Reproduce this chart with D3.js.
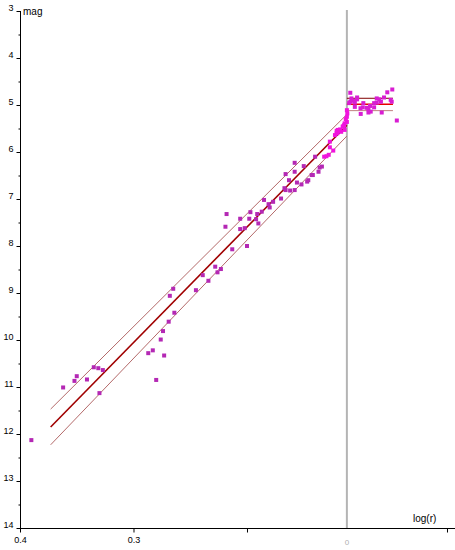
<!DOCTYPE html>
<html><head><meta charset="utf-8">
<script src="https://cdn.jsdelivr.net/npm/d3@7"></script>
<style>
body{margin:0;background:#fff}
svg text{font-family:"Liberation Sans",Arial,sans-serif}
</style>
</head><body>
<svg id="c" width="455" height="550"></svg>
<script>
// ---- data ----
const yTicks = [3,4,5,6,7,8,9,10,11,12,13,14];
const yMinorTicks = [3.5,4.5,5.5,6.5,7.5,8.5,9.5,10.5,11.5,12.5,13.5];
const xTicks = [0.4,0.3,0.2,0.0238];
const xTickLabels = ["0.4","0.3","",""];
const breakX = 0.112;
const breakLabel = "0";
const xLabel = "log(r)";
const yLabel = "mag";

const fallA = [[0.390,12.13],[0.362,11.01],[0.352,10.87],[0.350,10.77],[0.341,10.84],[0.335,10.58],[0.331,10.60],[0.327,10.64],[0.330,11.13],[0.287,10.28],[0.283,10.22],[0.273,10.33],[0.280,10.85],[0.276,9.99],[0.274,9.81],[0.269,9.61],[0.264,9.42],[0.268,9.06],[0.265,8.91],[0.245,8.94],[0.234,8.74],[0.239,8.62],[0.228,8.44],[0.226,8.56],[0.223,8.49],[0.213,8.07],[0.200,8.00],[0.219,7.59],[0.218,7.32],[0.206,7.42],[0.206,7.64],[0.202,7.62],[0.197,7.28],[0.198,7.42],[0.192,7.43],[0.190,7.52],[0.191,7.32],[0.187,7.27],[0.185,7.02],[0.181,7.11],[0.180,7.18],[0.177,7.06],[0.170,6.99],[0.167,6.77],[0.166,6.81],[0.162,6.82],[0.158,6.81],[0.163,6.60],[0.166,6.47],[0.158,6.42],[0.156,6.65],[0.152,6.69],[0.147,6.63],[0.146,6.60],[0.143,6.49],[0.142,6.49],[0.137,6.42],[0.136,6.33],[0.134,6.31],[0.158,6.23],[0.150,6.30],[0.140,6.10]];
const fallB = [[0.132,6.10],[0.130,6.09],[0.128,6.06],[0.127,5.90],[0.124,5.97],[0.127,5.78],[0.1225,5.64],[0.121,5.60],[0.118,5.52],[0.115,5.45],[0.114,5.39],[0.112,5.36],[0.117,5.57],[0.120,5.53],[0.112,5.11],[0.1116,5.18],[0.112,5.25],[0.113,5.30],[0.1145,5.43],[0.1157,5.46],[0.114,5.53],[0.1187,5.55],[0.1204,5.60],[0.121,5.55]];
const plateau = [[0.109,4.74],[0.108,4.86],[0.106,4.91],[0.109,4.93],[0.110,4.96],[0.105,4.95],[0.103,4.84],[0.103,4.88],[0.105,5.04],[0.100,5.07],[0.0975,4.96],[0.098,5.05],[0.0945,5.06],[0.093,5.09],[0.0916,5.02],[0.091,5.14],[0.0998,5.19],[0.088,4.96],[0.0857,4.95],[0.0834,4.88],[0.082,4.93],[0.0793,4.84],[0.0764,4.73],[0.072,4.67],[0.0734,4.89],[0.0725,4.93],[0.0813,5.16],[0.088,5.05],[0.068,5.33],[0.093,5.16],[0.0857,4.86]];

const fitLine = [[0.373,11.85],[0.112,5.43]];
const upperBand = [[0.373,11.47],[0.112,5.20]];
const lowerBand = [[0.373,12.23],[0.112,5.66]];
const plateauFit = [[0.112,4.985],[0.0714,4.985]];
const plateauUpper = [[0.112,4.857],[0.0714,4.857]];
const plateauLower = [[0.112,5.12],[0.0714,5.12]];

// ---- chart ----
const svg = d3.select("#c");
const x = d3.scaleLinear().domain([0.4,0.01674]).range([20,455]);
const y = d3.scaleLinear().domain([3,14]).range([11,528]);

// gray break line
svg.append("line").attr("x1",x(breakX)).attr("x2",x(breakX))
  .attr("y1",10).attr("y2",y(14)+1)
  .attr("stroke","#b4b4b4").attr("stroke-width",2);
svg.append("text").attr("x",x(breakX)).attr("y",545).attr("text-anchor","middle")
  .attr("font-size",8).attr("fill","#b0b0b0").text(breakLabel);

// axes
const yAxis = d3.axisLeft(y).tickValues(yTicks).tickSize(4).tickPadding(3).tickFormat(d3.format("d"));
const gy = svg.append("g").attr("transform",`translate(${x(0.4)+0.5},0)`).call(yAxis);
gy.select(".domain").attr("d",`M0,${y(3)}V${y(14)+0.5}`).attr("stroke","#000");
gy.selectAll("text").attr("font-size",9).attr("dy","-0.05em").attr("fill","#000");
const yMinor = d3.axisLeft(y).tickValues(yMinorTicks).tickSize(2).tickFormat("");
const gym = svg.append("g").attr("transform",`translate(${x(0.4)+0.5},0)`).call(yMinor);
gym.select(".domain").remove();

const xAxis = d3.axisBottom(x).tickValues(xTicks).tickSize(4).tickPadding(4).tickFormat((d,i)=>xTickLabels[i]);
const gx = svg.append("g").attr("transform",`translate(0,${y(14)+0.5})`).call(xAxis);
gx.select(".domain").attr("d",`M${x(0.4)},0H455`).attr("stroke","#000");
gx.selectAll("text").attr("font-size",9).attr("fill","#000");

svg.append("text").attr("x",x(0.4)+3).attr("y",15).attr("font-size",10).text(yLabel);
svg.append("text").attr("x",413).attr("y",522).attr("font-size",10).text(xLabel);

// lines
const line = d3.line().x(d=>x(d[0])).y(d=>y(d[1]));
const lines = [
  [upperBand,"#b46a6a",1],[lowerBand,"#b46a6a",1],[fitLine,"#a00000",1.6],
  [plateauUpper,"#800000",1],[plateauLower,"#c08080",1],[plateauFit,"#e60000",1.6]
];
lines.forEach(([d,c,w])=>svg.append("path").attr("d",line(d)).attr("fill","none").attr("stroke",c).attr("stroke-width",w));

// points
const sq = 4;
function pts(data,color){
  svg.append("g").selectAll("rect").data(data).join("rect")
    .attr("x",d=>x(d[0])-sq/2).attr("y",d=>y(d[1])-sq/2)
    .attr("width",sq).attr("height",sq).attr("fill",color);
}
pts(fallA,"#b428b4");
pts(fallB,"#f014dc");
pts(plateau,"#d81ed2");
</script>
</body></html>
